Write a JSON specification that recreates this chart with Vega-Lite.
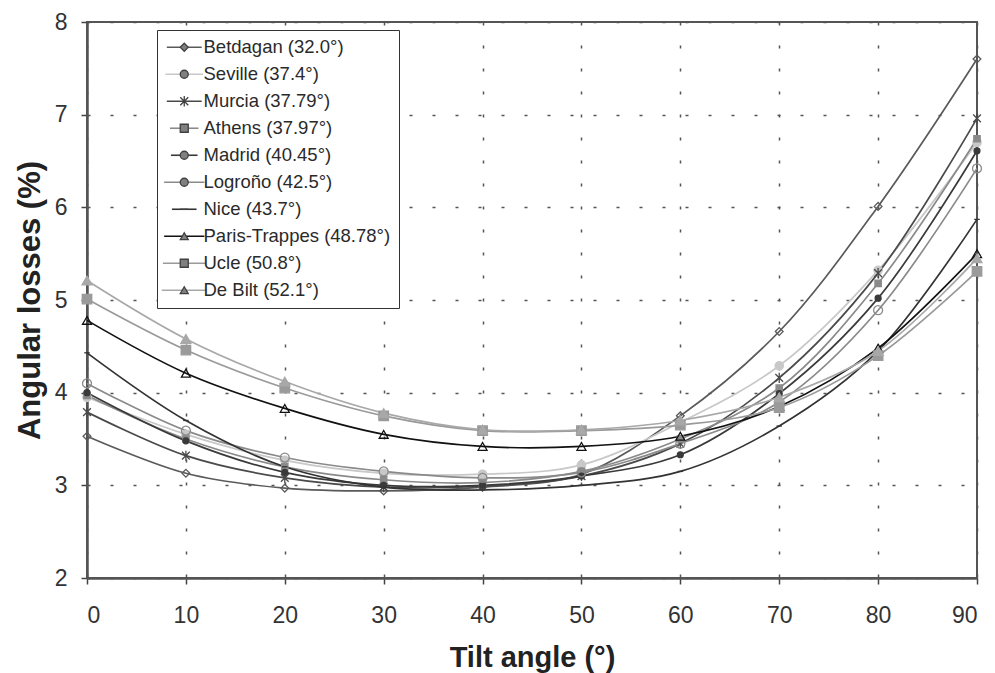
{
  "$schema": "https://vega.github.io/schema/vega-lite/v6.json",
  "width": 890,
  "height": 556,
  "autosize": {"type": "none"},
  "padding": {"left": 87, "top": 22, "right": 18, "bottom": 95},
  "background": "white",
  "config": {
    "font": "Liberation Sans",
    "view": {"stroke": "#555555", "strokeWidth": 2},
    "axis": {
      "domainColor": "#555555",
      "domainWidth": 2.5,
      "tickColor": "#444444",
      "tickWidth": 1.5,
      "tickSize": 6,
      "gridColor": "#555555",
      "gridWidth": 1.5,
      "gridDash": [3, 20],
      "labelFont": "Liberation Sans",
      "labelFontSize": 23,
      "labelColor": "#333333",
      "titleFont": "Liberation Sans",
      "titleFontWeight": "bold",
      "titleColor": "#222222"
    },
    "legend": {
      "title": null,
      "orient": "none",
      "legendX": 70,
      "legendY": 8,
      "padding": 8,
      "symbolOffset": 10,
      "labelOffset": 10,
      "rowPadding": 8,
      "labelFont": "Liberation Sans",
      "labelFontSize": 18.5,
      "labelLimit": 300,
      "labelColor": "#2a2a2a",
      "symbolSize": 64
    }
  },
  "data": {"values": [
    {"series": "Betdagan (32.0°)", "tilt": 0, "loss": 3.53},
    {"series": "Betdagan (32.0°)", "tilt": 10, "loss": 3.13},
    {"series": "Betdagan (32.0°)", "tilt": 20, "loss": 2.97},
    {"series": "Betdagan (32.0°)", "tilt": 30, "loss": 2.94},
    {"series": "Betdagan (32.0°)", "tilt": 40, "loss": 2.98},
    {"series": "Betdagan (32.0°)", "tilt": 50, "loss": 3.12},
    {"series": "Betdagan (32.0°)", "tilt": 60, "loss": 3.75},
    {"series": "Betdagan (32.0°)", "tilt": 70, "loss": 4.66},
    {"series": "Betdagan (32.0°)", "tilt": 80, "loss": 6.01},
    {"series": "Betdagan (32.0°)", "tilt": 90, "loss": 7.60},
    {"series": "Seville (37.4°)", "tilt": 0, "loss": 3.95},
    {"series": "Seville (37.4°)", "tilt": 10, "loss": 3.55},
    {"series": "Seville (37.4°)", "tilt": 20, "loss": 3.27},
    {"series": "Seville (37.4°)", "tilt": 30, "loss": 3.13},
    {"series": "Seville (37.4°)", "tilt": 40, "loss": 3.12},
    {"series": "Seville (37.4°)", "tilt": 50, "loss": 3.22},
    {"series": "Seville (37.4°)", "tilt": 60, "loss": 3.68},
    {"series": "Seville (37.4°)", "tilt": 70, "loss": 4.29},
    {"series": "Seville (37.4°)", "tilt": 80, "loss": 5.32},
    {"series": "Seville (37.4°)", "tilt": 90, "loss": 6.70},
    {"series": "Murcia (37.79°)", "tilt": 0, "loss": 3.79},
    {"series": "Murcia (37.79°)", "tilt": 10, "loss": 3.32},
    {"series": "Murcia (37.79°)", "tilt": 20, "loss": 3.08},
    {"series": "Murcia (37.79°)", "tilt": 30, "loss": 2.98},
    {"series": "Murcia (37.79°)", "tilt": 40, "loss": 2.99},
    {"series": "Murcia (37.79°)", "tilt": 50, "loss": 3.10},
    {"series": "Murcia (37.79°)", "tilt": 60, "loss": 3.45},
    {"series": "Murcia (37.79°)", "tilt": 70, "loss": 4.16},
    {"series": "Murcia (37.79°)", "tilt": 80, "loss": 5.29},
    {"series": "Murcia (37.79°)", "tilt": 90, "loss": 6.96},
    {"series": "Athens (37.97°)", "tilt": 0, "loss": 3.97},
    {"series": "Athens (37.97°)", "tilt": 10, "loss": 3.50},
    {"series": "Athens (37.97°)", "tilt": 20, "loss": 3.20},
    {"series": "Athens (37.97°)", "tilt": 30, "loss": 3.06},
    {"series": "Athens (37.97°)", "tilt": 40, "loss": 3.03},
    {"series": "Athens (37.97°)", "tilt": 50, "loss": 3.15},
    {"series": "Athens (37.97°)", "tilt": 60, "loss": 3.50},
    {"series": "Athens (37.97°)", "tilt": 70, "loss": 4.05},
    {"series": "Athens (37.97°)", "tilt": 80, "loss": 5.18},
    {"series": "Athens (37.97°)", "tilt": 90, "loss": 6.74},
    {"series": "Madrid (40.45°)", "tilt": 0, "loss": 4.00},
    {"series": "Madrid (40.45°)", "tilt": 10, "loss": 3.48},
    {"series": "Madrid (40.45°)", "tilt": 20, "loss": 3.14},
    {"series": "Madrid (40.45°)", "tilt": 30, "loss": 3.00},
    {"series": "Madrid (40.45°)", "tilt": 40, "loss": 3.00},
    {"series": "Madrid (40.45°)", "tilt": 50, "loss": 3.10},
    {"series": "Madrid (40.45°)", "tilt": 60, "loss": 3.33},
    {"series": "Madrid (40.45°)", "tilt": 70, "loss": 3.99},
    {"series": "Madrid (40.45°)", "tilt": 80, "loss": 5.02},
    {"series": "Madrid (40.45°)", "tilt": 90, "loss": 6.61},
    {"series": "Logroño (42.5°)", "tilt": 0, "loss": 4.10},
    {"series": "Logroño (42.5°)", "tilt": 10, "loss": 3.59},
    {"series": "Logroño (42.5°)", "tilt": 20, "loss": 3.30},
    {"series": "Logroño (42.5°)", "tilt": 30, "loss": 3.15},
    {"series": "Logroño (42.5°)", "tilt": 40, "loss": 3.08},
    {"series": "Logroño (42.5°)", "tilt": 50, "loss": 3.14},
    {"series": "Logroño (42.5°)", "tilt": 60, "loss": 3.45},
    {"series": "Logroño (42.5°)", "tilt": 70, "loss": 3.90},
    {"series": "Logroño (42.5°)", "tilt": 80, "loss": 4.89},
    {"series": "Logroño (42.5°)", "tilt": 90, "loss": 6.42},
    {"series": "Nice (43.7°)", "tilt": 0, "loss": 4.43},
    {"series": "Nice (43.7°)", "tilt": 10, "loss": 3.70},
    {"series": "Nice (43.7°)", "tilt": 20, "loss": 3.20},
    {"series": "Nice (43.7°)", "tilt": 30, "loss": 2.98},
    {"series": "Nice (43.7°)", "tilt": 40, "loss": 2.95},
    {"series": "Nice (43.7°)", "tilt": 50, "loss": 3.00},
    {"series": "Nice (43.7°)", "tilt": 60, "loss": 3.15},
    {"series": "Nice (43.7°)", "tilt": 70, "loss": 3.64},
    {"series": "Nice (43.7°)", "tilt": 80, "loss": 4.45},
    {"series": "Nice (43.7°)", "tilt": 90, "loss": 5.87},
    {"series": "Paris-Trappes (48.78°)", "tilt": 0, "loss": 4.78},
    {"series": "Paris-Trappes (48.78°)", "tilt": 10, "loss": 4.21},
    {"series": "Paris-Trappes (48.78°)", "tilt": 20, "loss": 3.83},
    {"series": "Paris-Trappes (48.78°)", "tilt": 30, "loss": 3.55},
    {"series": "Paris-Trappes (48.78°)", "tilt": 40, "loss": 3.42},
    {"series": "Paris-Trappes (48.78°)", "tilt": 50, "loss": 3.42},
    {"series": "Paris-Trappes (48.78°)", "tilt": 60, "loss": 3.53},
    {"series": "Paris-Trappes (48.78°)", "tilt": 70, "loss": 3.85},
    {"series": "Paris-Trappes (48.78°)", "tilt": 80, "loss": 4.48},
    {"series": "Paris-Trappes (48.78°)", "tilt": 90, "loss": 5.50},
    {"series": "Ucle (50.8°)", "tilt": 0, "loss": 5.01},
    {"series": "Ucle (50.8°)", "tilt": 10, "loss": 4.46},
    {"series": "Ucle (50.8°)", "tilt": 20, "loss": 4.05},
    {"series": "Ucle (50.8°)", "tilt": 30, "loss": 3.75},
    {"series": "Ucle (50.8°)", "tilt": 40, "loss": 3.59},
    {"series": "Ucle (50.8°)", "tilt": 50, "loss": 3.59},
    {"series": "Ucle (50.8°)", "tilt": 60, "loss": 3.65},
    {"series": "Ucle (50.8°)", "tilt": 70, "loss": 3.84},
    {"series": "Ucle (50.8°)", "tilt": 80, "loss": 4.40},
    {"series": "Ucle (50.8°)", "tilt": 90, "loss": 5.31},
    {"series": "De Bilt (52.1°)", "tilt": 0, "loss": 5.21},
    {"series": "De Bilt (52.1°)", "tilt": 10, "loss": 4.58},
    {"series": "De Bilt (52.1°)", "tilt": 20, "loss": 4.12},
    {"series": "De Bilt (52.1°)", "tilt": 30, "loss": 3.78},
    {"series": "De Bilt (52.1°)", "tilt": 40, "loss": 3.60},
    {"series": "De Bilt (52.1°)", "tilt": 50, "loss": 3.60},
    {"series": "De Bilt (52.1°)", "tilt": 60, "loss": 3.70},
    {"series": "De Bilt (52.1°)", "tilt": 70, "loss": 3.95},
    {"series": "De Bilt (52.1°)", "tilt": 80, "loss": 4.45},
    {"series": "De Bilt (52.1°)", "tilt": 90, "loss": 5.45}
  ]},
  "encoding": {
    "x": {
      "field": "tilt", "type": "quantitative",
      "scale": {"domain": [0, 90], "nice": false, "zero": false},
      "axis": {
        "values": [0, 10, 20, 30, 40, 50, 60, 70, 80, 90],
        "title": "Tilt angle (°)",
        "titleFontSize": 29,
        "labelPadding": 20,
        "titleX": 445, "titleY": 79, "titleBaseline": "middle", "titleAlign": "center"
      }
    },
    "y": {
      "field": "loss", "type": "quantitative",
      "scale": {"domain": [2, 8], "nice": false, "zero": false},
      "axis": {
        "values": [2, 3, 4, 5, 6, 7, 8],
        "title": "Angular losses (%)",
        "titleFontSize": 31,
        "labelPadding": 14,
        "titleX": -57, "titleY": 278, "titleAngle": -90, "titleBaseline": "middle", "titleAlign": "center"
      }
    }
  },
  "layer": [
    {
      "mark": {"type": "line", "interpolate": "catmull-rom", "strokeWidth": 1.7},
      "encoding": {
        "color": {
          "field": "series", "type": "nominal",
          "scale": {
            "domain": ["Betdagan (32.0°)", "Seville (37.4°)", "Murcia (37.79°)", "Athens (37.97°)", "Madrid (40.45°)", "Logroño (42.5°)", "Nice (43.7°)", "Paris-Trappes (48.78°)", "Ucle (50.8°)", "De Bilt (52.1°)"],
            "range": ["#5a5a5a", "#c8c8c8", "#4a4a4a", "#8a8a8a", "#3a3a3a", "#8a8a8a", "#333333", "#111111", "#9a9a9a", "#a8a8a8"]
          },
          "legend": {
            "fillColor": "white",
            "strokeColor": "#333333",
            "symbolType": "M-4.5,0H4.5",
            "symbolStrokeWidth": 1.6
          }
        }
      }
    },
    {
      "mark": {"type": "point", "strokeWidth": 1.3, "opacity": 1},
      "encoding": {
        "stroke": {
          "field": "series", "type": "nominal",
          "sort": ["Betdagan (32.0°)", "Seville (37.4°)", "Murcia (37.79°)", "Athens (37.97°)", "Madrid (40.45°)", "Logroño (42.5°)", "Nice (43.7°)", "Paris-Trappes (48.78°)", "Ucle (50.8°)", "De Bilt (52.1°)"],
          "scale": {"range": ["#5a5a5a", "#c8c8c8", "#4a4a4a", "#8a8a8a", "#3a3a3a", "#8a8a8a", "#333333", "#111111", "#9a9a9a", "#a8a8a8"]},
          "legend": null
        },
        "fill": {
          "field": "series", "type": "nominal",
          "sort": ["Betdagan (32.0°)", "Seville (37.4°)", "Murcia (37.79°)", "Athens (37.97°)", "Madrid (40.45°)", "Logroño (42.5°)", "Nice (43.7°)", "Paris-Trappes (48.78°)", "Ucle (50.8°)", "De Bilt (52.1°)"],
          "scale": {"range": ["transparent", "#c8c8c8", "#4a4a4a", "#8a8a8a", "#3a3a3a", "transparent", "#333333", "transparent", "#9a9a9a", "#a8a8a8"]},
          "legend": null
        },
        "shape": {
          "field": "series", "type": "nominal",
          "sort": ["Betdagan (32.0°)", "Seville (37.4°)", "Murcia (37.79°)", "Athens (37.97°)", "Madrid (40.45°)", "Logroño (42.5°)", "Nice (43.7°)", "Paris-Trappes (48.78°)", "Ucle (50.8°)", "De Bilt (52.1°)"],
          "scale": {"range": ["diamond", "circle", "M-1,-1L1,1M-1,1L1,-1M0,-1.3V1.3", "square", "circle", "circle", "M-1,0H1", "triangle-up", "square", "triangle-up"]},
          "legend": {"labelOpacity": 0, "symbolStrokeWidth": 1.3, "symbolFillColor": "#808080", "symbolStrokeColor": "#404040"}
        },
        "size": {
          "field": "series", "type": "nominal",
          "scale": {
            "type": "ordinal",
            "domain": ["Betdagan (32.0°)", "Seville (37.4°)", "Murcia (37.79°)", "Athens (37.97°)", "Madrid (40.45°)", "Logroño (42.5°)", "Nice (43.7°)", "Paris-Trappes (48.78°)", "Ucle (50.8°)", "De Bilt (52.1°)"],
            "range": [60, 70, 60, 40, 35, 80, 30, 80, 90, 100]
          },
          "legend": null
        }
      }
    }
  ]
}
